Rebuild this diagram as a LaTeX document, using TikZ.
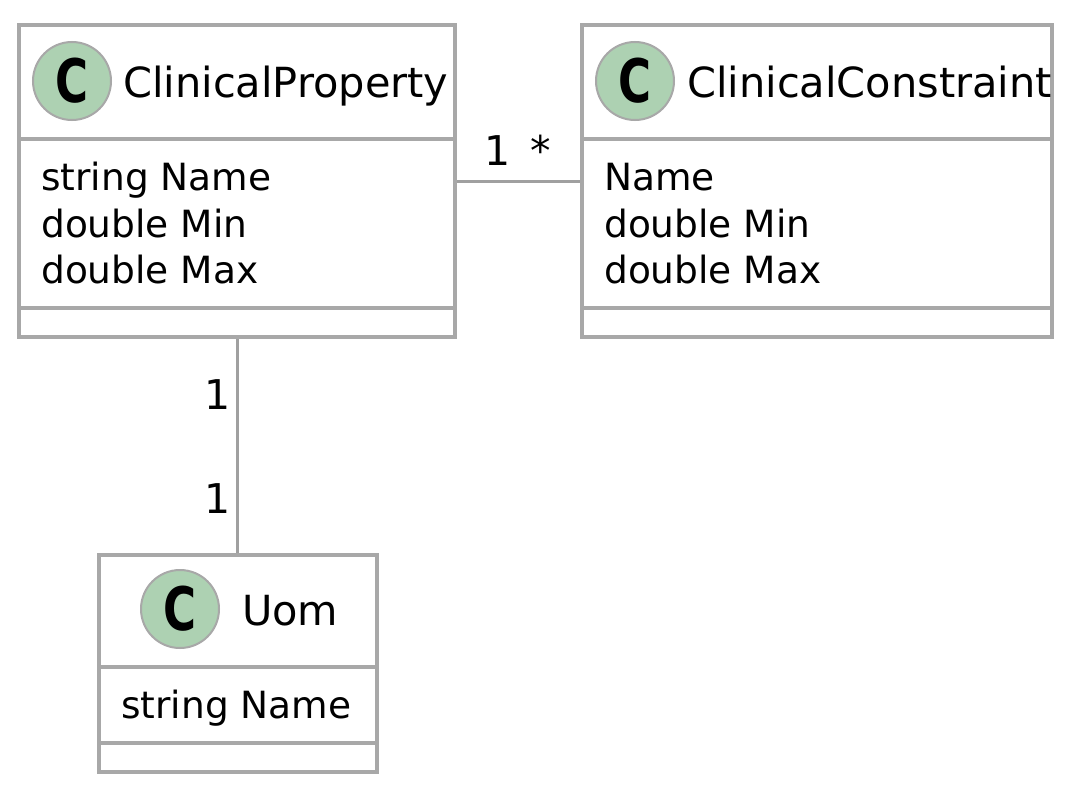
\documentclass[tikz,border=0pt]{standalone}
\usepackage{fontspec}
\setmainfont{DejaVu Sans}
\definecolor{bordergray}{HTML}{A8A8A8}
\definecolor{linegray}{HTML}{A0A0A0}
\definecolor{cgreen}{HTML}{ADD1B2}
\begin{document}
\begin{tikzpicture}[x=1pt,y=-1pt,
  classbox/.style={draw=bordergray, line width=4pt, fill=white, rectangle, inner sep=0pt, anchor=north west},
  sepline/.style={draw=bordergray, line width=4pt},
  badge/.style={circle, draw=bordergray, line width=2pt, fill=cgreen, minimum size=78pt, inner sep=0pt, font=\fontsize{60}{60}\selectfont\bfseries},
  title/.style={anchor=base west, inner sep=0pt, font=\fontsize{41.5}{41.5}\selectfont},
  attr/.style={anchor=base west, inner sep=0pt, font=\fontsize{37.5}{37.5}\selectfont},
  mult/.style={inner sep=0pt, font=\fontsize{41}{41}\selectfont},
  assoc/.style={draw=linegray, line width=3pt}]
\useasboundingbox (0,0) rectangle (1074,792);
\fill[white] (0,0) rectangle (1074,792);

% ClinicalProperty
\node[classbox, minimum width=436pt, minimum height=312pt] (cp) at (17,23) {};
\draw[sepline] (17,139) -- (453,139);
\draw[sepline] (17,308) -- (453,308);
\node[badge] (cpb) at (72,81) {\scalebox{0.75}[1]{C}};
\node[title] (cpt) at (123,97) {ClinicalProperty};
\node[attr] (cpa1) at (41,190) {string Name};
\node[attr] (cpa2) at (41,237) {double Min};
\node[attr] (cpa3) at (41,283) {double Max};

% ClinicalConstraint
\node[classbox, minimum width=470pt, minimum height=312pt] (cc) at (580,23) {};
\draw[sepline] (580,139) -- (1050,139);
\draw[sepline] (580,308) -- (1050,308);
\node[badge] (ccb) at (635,81) {\scalebox{0.75}[1]{C}};
\node[title] (cct) at (687,97) {ClinicalConstraint};
\node[attr] (cca1) at (604,190) {Name};
\node[attr] (cca2) at (604,237) {double Min};
\node[attr] (cca3) at (604,283) {double Max};

% Uom
\node[classbox, minimum width=278pt, minimum height=217pt] (uom) at (97,553) {};
\draw[sepline] (97,667) -- (375,667);
\draw[sepline] (97,743) -- (375,743);
\node[badge] (uomb) at (180,609) {\scalebox{0.75}[1]{C}};
\node[title] (uomt) at (242,625) {Uom};
\node[attr] (uoma1) at (121,718) {string Name};

% associations
\draw[assoc] (cp.east) -- (cc.west);
\draw[assoc] (cp.south) -- (cp.south |- uom.north);
\node[mult, anchor=base east] (m1) at (511,165) {1};
\node[mult, anchor=base west] (m2) at (530,165) {*};
\node[mult, anchor=base east] (m3) at (231,409) {1};
\node[mult, anchor=base east] (m4) at (231,513) {1};
\end{tikzpicture}
\end{document}
